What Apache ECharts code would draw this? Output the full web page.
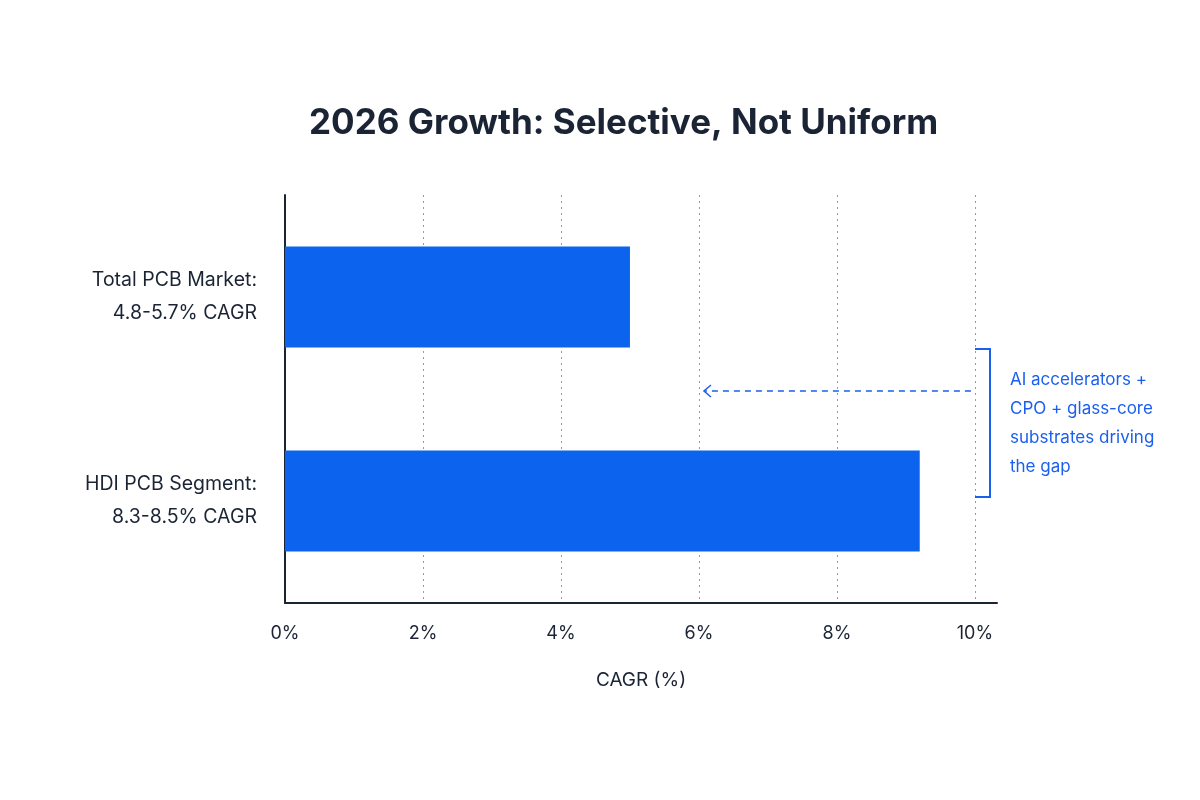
<!DOCTYPE html>
<html>
<head>
<meta charset="utf-8">
<script src="https://cdn.jsdelivr.net/npm/echarts@6/dist/echarts.min.js"></script>
<style>
  html, body { margin: 0; padding: 0; background: #fff; }
  #chart { width: 1200px; height: 800px; }
</style>
</head>
<body>
<div id="chart"></div>
<script>
// categories (top to bottom)
const categories = ["Total PCB Market:\n4.8-5.7% CAGR", "HDI PCB Segment:\n8.3-8.5% CAGR"];
// bar values, CAGR %
const cagrValues = [5.0, 9.2];
// x axis ticks
const tickStep = 2;
const tickMax = 10;
const noteLines = ["AI accelerators +", "CPO + glass-core", "substrates driving", "the gap"];

const ink = "#1b2435";
const blue = "#0b63ee";
const noteBlue = "#1a5ff0";
const font = "Inter, 'Noto Sans', sans-serif";

const chart = echarts.init(document.getElementById("chart"));

chart.setOption({
  backgroundColor: "#ffffff",
  animation: false,
  title: {
    text: "2026 Growth: Selective, Not Uniform",
    left: 304,
    top: 101,
    textStyle: { fontFamily: font, fontSize: 35, fontWeight: "bold", color: ink },
  },
  grid: {
    left: 285,
    right: 203,
    top: 195,
    bottom: 197,
    containLabel: false,
  },
  xAxis: {
    type: "value",
    min: 0,
    max: 10.32,
    interval: tickStep,
    name: "CAGR (%)",
    nameLocation: "middle",
    nameGap: 68,
    nameTextStyle: { fontFamily: font, fontSize: 19, color: ink },
    axisLine: { show: true, lineStyle: { color: ink, width: 2 } },
    axisTick: { show: false },
    axisLabel: {
      margin: 22,
      fontFamily: font,
      fontSize: 18,
      color: ink,
      showMaxLabel: false,
      formatter: (v) => (v % tickStep === 0 && v <= tickMax ? v + "%" : ""),
    },
    splitLine: {
      show: true,
      showMinLine: false,
      showMaxLine: false,
      lineStyle: { color: "#9a9a9a", type: [2, 4], width: 1 },
    },
  },
  yAxis: {
    type: "category",
    data: categories,
    inverse: true,
    axisLine: { show: true, lineStyle: { color: ink, width: 2 } },
    axisTick: { show: false },
    axisLabel: {
      margin: 28,
      fontFamily: font,
      fontSize: 19.5,
      lineHeight: 33,
      color: ink,
      align: "right",
    },
    splitLine: { show: false },
  },
  series: [
    {
      type: "bar",
      data: cagrValues,
      barWidth: 101,
      itemStyle: { color: blue },
      silent: true,
    },
  ],
});

// annotation: bracket, dashed arrow and note, placed from the axis scale
const x6 = chart.convertToPixel({ xAxisIndex: 0 }, 6);
const x10 = chart.convertToPixel({ xAxisIndex: 0 }, 10);
const arrowY = 391;
const brX = 990, brTop = 349, brBot = 497;

chart.setOption({
  graphic: [
    {
      type: "polyline",
      shape: { points: [[brX - 15, brTop], [brX, brTop], [brX, brBot], [brX - 15, brBot]] },
      style: { stroke: noteBlue, lineWidth: 2, fill: null },
    },
    {
      type: "line",
      shape: { x1: x10 - 4, y1: arrowY, x2: x6 + 5, y2: arrowY },
      style: { stroke: noteBlue, lineWidth: 1.5, lineDash: [6, 5] },
    },
    {
      type: "polyline",
      shape: { points: [[x6 + 12, arrowY - 6], [x6 + 5, arrowY], [x6 + 12, arrowY + 6]] },
      style: { stroke: noteBlue, lineWidth: 1.5, fill: null },
    },
    {
      type: "text",
      left: 1010,
      top: 365,
      style: {
        text: noteLines.join("\n"),
        fontFamily: font,
        fontSize: 17,
        lineHeight: 29,
        fill: noteBlue,
      },
    },
  ],
});
</script>
</body>
</html>
